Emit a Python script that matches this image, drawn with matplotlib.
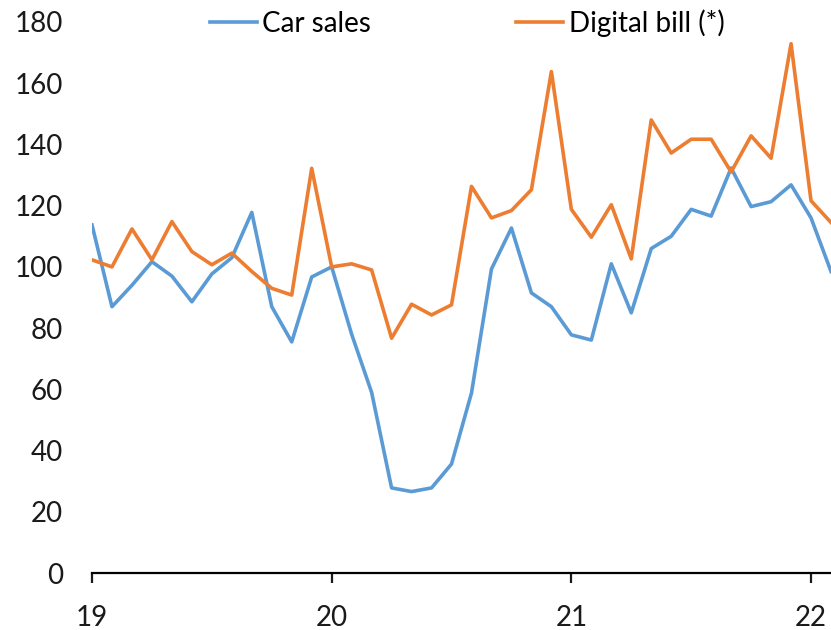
import matplotlib
matplotlib.use('Agg')
import matplotlib.pyplot as plt

plt.rcParams['font.family'] = ['Lato', 'DejaVu Sans']

# Monthly values, Jan 2019 .. Feb 2022
car_sales = [113.7, 87, 94, 101.7, 97, 88.6, 97.7, 103, 117.8, 87, 75.5, 96.7,
             100, 78, 59, 27.8, 26.6, 27.8, 35.6, 58.8, 99.3, 112.7, 91.5, 87,
             77.8, 76.1, 101, 85, 106, 110, 118.8, 116.6, 132.3, 119.7, 121.3, 126.8,
             116, 98.5]
digital_bill = [102.3, 100, 112.4, 102.3, 114.8, 105, 100.7, 104.5, 98.5, 93, 90.8, 132.2,
                100, 101, 99, 76.7, 87.8, 84.3, 87.6, 126.3, 116, 118.4, 125.2, 163.8,
                118.8, 109.7, 120.3, 102.6, 148, 137.2, 141.7, 141.7, 131, 142.8, 135.5, 172.9,
                121.6, 114.5]
months = list(range(len(car_sales)))
year_ticks = [0, 12, 24, 36]
year_labels = ['19', '20', '21', '22']
y_ticks = [0, 20, 40, 60, 80, 100, 120, 140, 160, 180]

fig = plt.figure(figsize=(8.31, 6.3), dpi=100)
ax = fig.add_axes([92 / 831, 57 / 630, 1 - 92 / 831, 551 / 630])

ax.plot(months, car_sales, color='#5B9BD5', lw=2.6, label='Car sales')
ax.plot(months, digital_bill, color='#ED7D31', lw=2.6, label='Digital bill (*)')

ax.set_xlim(0, 37)
ax.set_ylim(0, 180)
ax.set_xticks(year_ticks)
ax.set_xticklabels(year_labels)
ax.set_yticks(y_ticks)

for s in ['top', 'right', 'left']:
    ax.spines[s].set_visible(False)
ax.spines['bottom'].set_linewidth(1.6)
ax.spines['bottom'].set_clip_on(False)

ax.tick_params(axis='y', length=0, pad=21, labelsize=20, colors='#1a1a1a')
ax.tick_params(axis='x', length=7, width=1.6, pad=16, labelsize=20, colors='#1a1a1a')

fig.legend(loc='center', bbox_to_anchor=(0.562, 1 - 23 / 630), ncol=2, frameon=False,
           fontsize=20, handlelength=1.7, handletextpad=0.2, columnspacing=5.2)

fig.savefig('out.png', dpi=100)
